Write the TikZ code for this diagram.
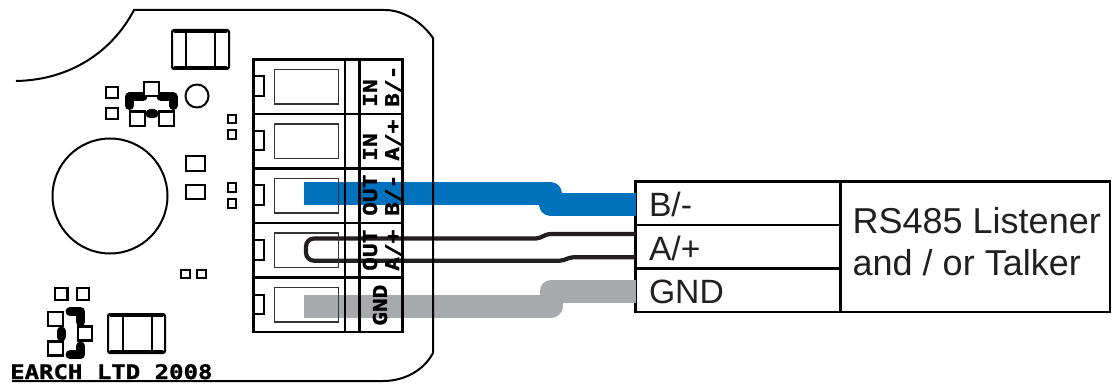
\documentclass[tikz,border=0pt]{standalone}
\usepackage{fontspec}
\setmainfont{Liberation Sans}
\newfontfamily\pcbfont[FakeStretch=1.2,FakeBold=1.5]{DejaVu Sans Mono}
\usepackage{tikz}
\usetikzlibrary{positioning}

\definecolor{wireblue}{HTML}{0071BC}
\definecolor{wiregray}{HTML}{A7A9AC}
\definecolor{wireblack}{HTML}{231F20}

\tikzset{
  pcbline/.style={black, line width=2pt},
  pad/.style={black, line width=2.4pt, fill=white},
  blob/.style={black, line width=9pt, line cap=round, line join=round},
  silk/.style={inner sep=0pt, font=\pcbfont\bfseries\fontsize{19}{19}\selectfont},
  widewire/.style={line width=23pt, line join=round},
  thinwire/.style={wireblack, line width=4.2pt},
  pinbox/.style={draw, line width=2.4pt, anchor=north west, minimum width=205pt, minimum height=43.5pt,
    inner sep=0pt, outer sep=0pt, text width=178pt, text height=26.5pt, text depth=0pt, align=left,
    text=wireblack, font=\fontsize{33.7}{33.7}\selectfont},
}

\begin{document}
\begin{tikzpicture}[x=1pt,y=-1pt]
\useasboundingbox (0,0) rectangle (1112,385);

% receiver box
\node[pinbox] (pinb) at (635.5,181.5) {B/-};
\node[pinbox, below=0pt of pinb] (pina) {A/+};
\node[pinbox, below=0pt of pina] (ping) {GND};
\node[draw, line width=2.4pt, anchor=north west, minimum width=269.5pt, minimum height=130.5pt,
  outer sep=0pt] (listener) at (pinb.north east) {};
\node[anchor=west, inner sep=0pt, align=left, text=wireblack, font=\fontsize{36}{42}\selectfont] (listenertext)
  at ([xshift=12pt,yshift=5pt]listener.west) {RS485 Listener\\and / or Talker};

% wires
\coordinate (blueend) at (304,193.5);
\coordinate (grayend) at (304,306);
\draw[widewire, wireblue] (blueend)--(550.5,193.5)--(550.5,204.5)--(pinb.west |- 0,204.5);
\draw[widewire, wiregray] (grayend)--(551,306)--(551,291)--(ping.west |- 0,291);
\draw[thinwire] (pina.west |- 0,234)[rounded corners=2pt]--(548,234)--(538,238.5)[rounded corners=8pt]--(306,238.5)--(306,260.7)[rounded corners=2pt]--(562,260.7)--(571,257.3)--(ping.west |- 0,257.3);

% board outline
\draw[pcbline] (16,81) .. controls (70,80) and (112,52) .. (134,10) -- (385,10)
  .. controls (403,10) and (422,22) .. (433,38) -- (433,353)
  .. controls (424,370) and (405,381) .. (383,381) -- (12,381);

% big part and small ring
\node[draw, pcbline, circle, minimum size=115pt] (bigring) at (110,196) {};
\node[draw, pcbline, circle, minimum size=23pt] (smallring) at (197,96) {};

% top chip
\draw[pcbline, rounded corners=2pt] (172,30) rectangle (229,69);
\draw[pcbline] (186,30)--(186,69);
\draw[pcbline] (215,30)--(215,69);
\draw[black, line width=4pt, line cap=round] (175,31)--(226,31);
\draw[black, line width=4pt, line cap=round] (175,68)--(226,68);

% bottom chip
\draw[pcbline, rounded corners=2pt] (108,314) rectangle (165,353);
\draw[pcbline] (122.5,314)--(122.5,353);
\draw[pcbline] (152,314)--(152,353);
\draw[black, line width=4pt, line cap=round] (111,315)--(162,315);
\draw[black, line width=4pt, line cap=round] (111,352)--(162,352);

% small pads
\foreach \px/\py/\qx/\qy in {
  106/87/118/98, 106/108/118/119,
  228/115/236/123, 228/130/236/139, 228/183/236/192, 228/199/236/208,
  186/156/205/171, 186/185/205/199,
  181/270/190/278, 197/270/206/278,
  55/288/67.5/300, 77/288/89/300}
  \draw[pad] (\px,\py) rectangle (\qx,\qy);

% top transistor
\draw[blob] (129.5,105.5)--(129.5,97)--(143,97);
\draw[blob] (173,105.5)--(173,97)--(161,97);
\draw[blob] (150,114)--(154,114);
\foreach \px/\py/\ph in {144/82/14, 130/111.5/14.5, 159/111.5/14.5}
  \draw[pad] (\px,\py) rectangle +(15,\ph);

% bottom transistor
\draw[blob] (70,311.5)--(80.5,311.5)--(80.5,322);
\draw[blob] (70,354.8)--(80.5,354.8)--(80.5,346);
\draw[blob] (61,331)--(61,337);
\foreach \px/\py/\pw in {48/312/15, 48/341.5/15, 78/326.5/14}
  \draw[pad] (\px,\py) rectangle +(\pw,14);

\node[silk, anchor=south west, font=\pcbfont\bfseries\fontsize{20}{20}\selectfont] (maker) at (10,379.5) {EARCH LTD 2008};

% terminal block
\draw[pcbline, line width=2.4pt] (253.5,59.5) rectangle (402.5,332);
\draw[pcbline, line width=2.4pt] (345,59.5)--(345,332);
\draw[pcbline, line width=2.4pt] (359.5,59.5)--(359.5,332);
\foreach \rowy in {114,168.5,223,277.5}
  \draw[pcbline, line width=2.4pt] (253.5,\rowy)--(402.5,\rowy);
\foreach \rowy in {59.5,114,168.5,223,277.5}{
  \draw[pcbline] (254,\rowy+17)--(264,\rowy+17)--(264,\rowy+36.5)--(254,\rowy+36.5);
  \draw[black!80, line width=1.1pt] (274.5,\rowy+10) rectangle (338.5,\rowy+44.5);
}

% labels on the block
\node[silk, rotate=90, anchor=west] (inb) at (370,107) {IN};
\node[silk, rotate=90, anchor=west] (labb) at (393,107) {B/-};
\node[silk, rotate=90, anchor=west] (ina) at (370,161) {IN};
\node[silk, rotate=90, anchor=west] (laba) at (393,161) {A/+};
\node[silk, rotate=90, anchor=west] (outb) at (370,216) {OUT};
\node[silk, rotate=90, anchor=west] (laboutb) at (393,216) {B/-};
\node[silk, rotate=90, anchor=west] (outa) at (370,271) {OUT};
\node[silk, rotate=90, anchor=west] (labouta) at (393,271) {A/+};
\node[silk, rotate=90, anchor=west] (gnd) at (380,326) {GND};
\end{tikzpicture}
\end{document}
